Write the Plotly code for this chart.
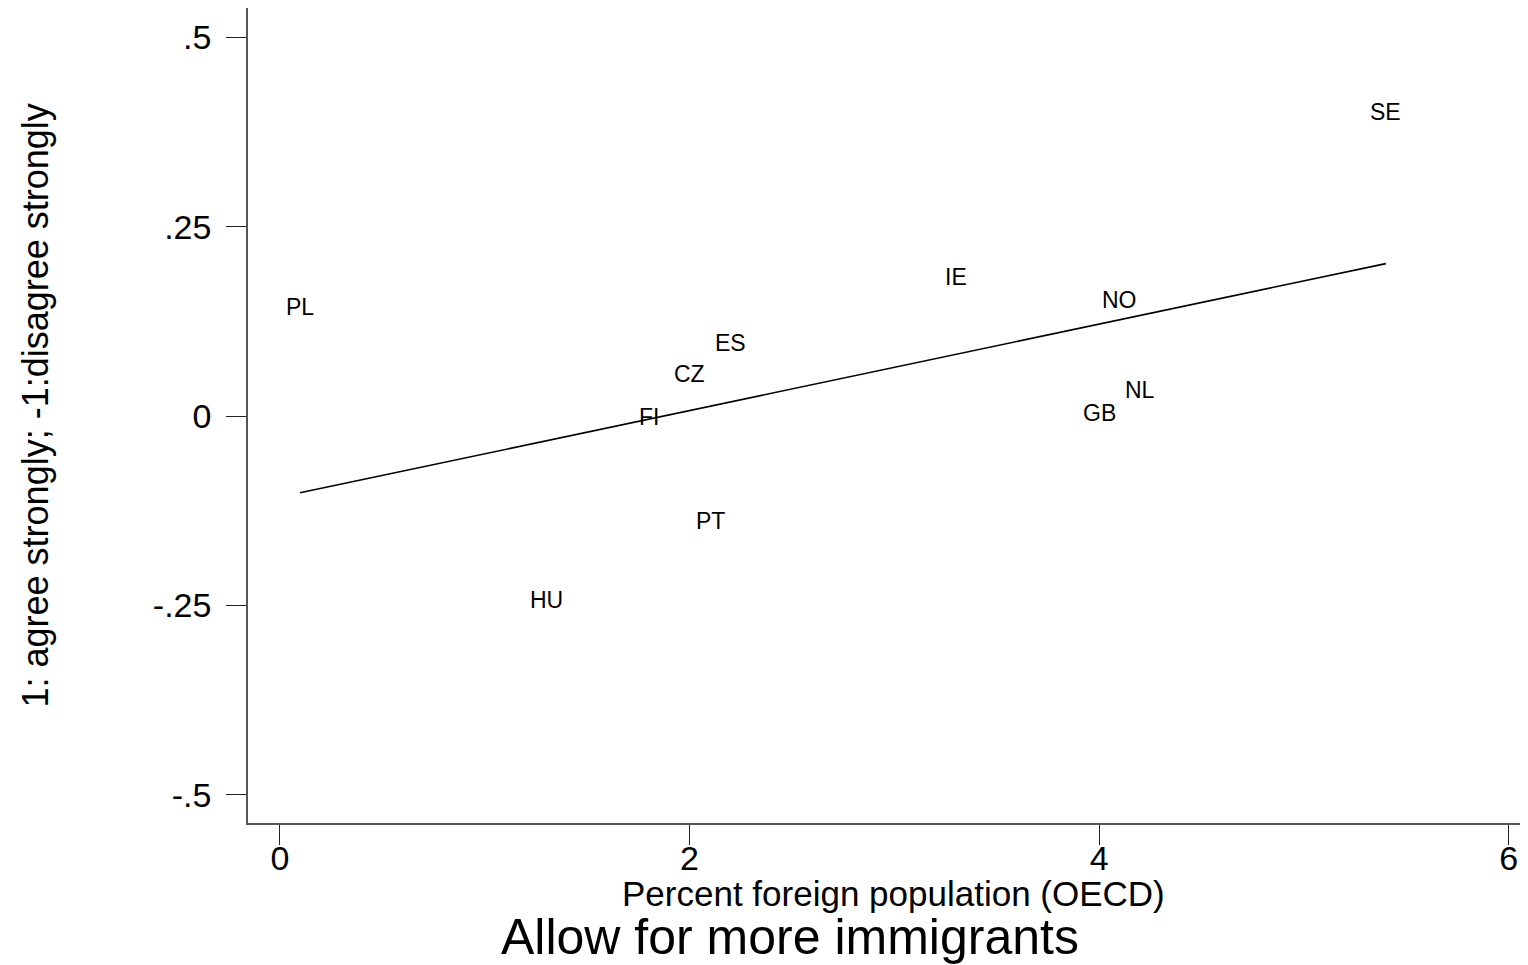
import numpy as np
import plotly.graph_objects as go

# ---- data ----
countries = ["SE", "PL", "ES", "CZ", "FI", "NO", "NL", "GB", "IE", "PT", "HU"]
foreign_pct = [5.40, 0.098, 2.20, 2.00, 1.80, 4.10, 4.20, 4.00, 3.30, 2.10, 1.30]
attitude = [0.390, 0.133, 0.085, 0.044, -0.013, 0.142, 0.023, -0.007, 0.172, -0.149, -0.254]

x_ticks = [0, 2, 4, 6]
y_ticks = [-0.5, -0.25, 0, 0.25, 0.5]
y_ticktext = ["-.5", "-.25", "0", ".25", ".5"]

title_text = "Allow for more immigrants"
x_title = "Percent foreign population (OECD)"
y_title = "1: agree strongly; -1:disagree strongly"

FONT = "Liberation Sans, Arial, sans-serif"

# linear fit
xa = np.array(foreign_pct)
ya = np.array(attitude)
slope, intercept = np.polyfit(xa, ya, 1)
fx = np.array([xa.min(), xa.max()])
fy = intercept + slope * fx

fig = go.Figure()
fig.add_trace(go.Scatter(x=fx, y=fy, mode="lines",
                         line=dict(color="black", width=1.6),
                         hoverinfo="skip", showlegend=False))
fig.add_trace(go.Scatter(x=foreign_pct, y=attitude, mode="markers",
                         marker=dict(size=1, opacity=0),
                         text=countries, hoverinfo="text", showlegend=False))

annotations = []
for c, xv, yv in zip(countries, foreign_pct, attitude):
    annotations.append(dict(x=xv, y=yv, xref="x", yref="y", text=c,
                            showarrow=False, xanchor="center", yanchor="middle",
                            yshift=8.5, font=dict(family=FONT, size=23, color="black")))

# page offset (body margin of the html page)
OFF = 8
W, H = 1520, 957
ml, mr, mt, mb = 240, 0, 0, 142
pw, ph = W - ml - mr, H - mt - mb


def px_to_paper(sx, sy):
    fx_ = sx - OFF
    fy_ = sy - OFF
    return (fx_ - ml) / pw, (H - mb - fy_) / ph


# y axis title
ax, ay = px_to_paper(35, 405.5)
annotations.append(dict(x=ax, y=ay, xref="paper", yref="paper", text=y_title,
                        showarrow=False, textangle=-90, xanchor="center", yanchor="middle",
                        font=dict(family=FONT, size=36, color="black")))
# x axis title
ax, ay = px_to_paper(893.5, 893)
annotations.append(dict(x=ax, y=ay, xref="paper", yref="paper", text=x_title,
                        showarrow=False, xanchor="center", yanchor="middle",
                        font=dict(family=FONT, size=35, color="black")))
# main (bottom) title
ax, ay = px_to_paper(790, 937)
annotations.append(dict(x=ax, y=ay, xref="paper", yref="paper", text=title_text,
                        showarrow=False, xanchor="center", yanchor="middle",
                        font=dict(family=FONT, size=50, color="black")))

fig.update_layout(
    width=W, height=H,
    margin=dict(l=ml, r=mr, t=mt, b=mb, pad=0),
    paper_bgcolor="white", plot_bgcolor="white",
    font=dict(family=FONT, color="black"),
    annotations=annotations,
    xaxis=dict(range=[-0.156, 6.094], tickvals=x_ticks, ticks="outside",
               ticklen=20, tickwidth=1, tickcolor="#222",
               showline=True, linecolor="#555", linewidth=1.5,
               showgrid=False, zeroline=False, ticklabelstandoff=-16,
               tickfont=dict(family=FONT, size=34, color="black")),
    yaxis=dict(range=[-0.537, 0.5387], tickvals=y_ticks, ticktext=y_ticktext,
               ticks="outside", ticklen=20, tickwidth=1, tickcolor="#222",
               showline=True, linecolor="#555", linewidth=1.5,
               showgrid=False, zeroline=False, ticklabelstandoff=8,
               tickfont=dict(family=FONT, size=34, color="black")),
)

fig.write_html("out.html")
